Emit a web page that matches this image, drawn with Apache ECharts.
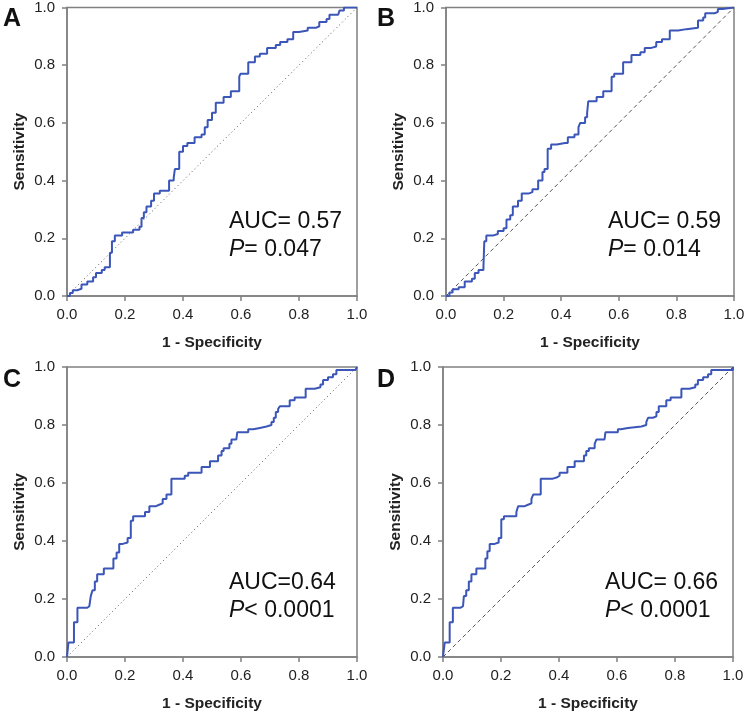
<!DOCTYPE html>
<html>
<head>
<meta charset="utf-8">
<script src="https://cdn.jsdelivr.net/npm/echarts@6/dist/echarts.min.js"></script>
<style>
  html, body { margin: 0; padding: 0; background: #fff; }
  #main { width: 749px; height: 717px; }
</style>
</head>
<body>
<div id="main"></div>
<script>
// ROC 曲线数据（阶梯点：先水平到 x，再竖直到 y）
var fprA = [0,0.01,0.02,0.035,0.05,0.07,0.09,0.10,0.12,0.13,0.148,0.155,0.165,0.19,0.228,0.25,0.257,0.265,0.274,0.29,0.30,0.32,0.352,0.368,0.372,0.387,0.40,0.415,0.44,0.464,0.475,0.485,0.50,0.513,0.54,0.565,0.594,0.598,0.625,0.648,0.665,0.69,0.72,0.735,0.76,0.78,0.80,0.83,0.86,0.87,0.895,0.905,0.935,0.94,0.955,1.0];
var tprA = [0,0.01,0.02,0.025,0.04,0.05,0.065,0.08,0.09,0.10,0.15,0.19,0.21,0.22,0.23,0.24,0.27,0.29,0.31,0.33,0.355,0.365,0.40,0.41,0.44,0.50,0.52,0.53,0.55,0.56,0.585,0.61,0.635,0.67,0.69,0.71,0.76,0.77,0.81,0.83,0.84,0.86,0.87,0.88,0.89,0.915,0.92,0.93,0.935,0.95,0.96,0.975,0.98,0.99,1.0,1.0];

var fprB = [0,0.012,0.023,0.044,0.065,0.09,0.10,0.113,0.13,0.133,0.14,0.165,0.18,0.20,0.21,0.223,0.232,0.25,0.263,0.286,0.30,0.32,0.335,0.342,0.353,0.365,0.385,0.413,0.423,0.446,0.46,0.466,0.483,0.49,0.494,0.523,0.546,0.575,0.584,0.615,0.644,0.675,0.69,0.713,0.73,0.75,0.777,0.806,0.835,0.875,0.893,0.90,0.933,0.944,0.96,1.0];
var tprB = [0,0.012,0.023,0.03,0.05,0.06,0.08,0.09,0.10,0.19,0.21,0.215,0.225,0.235,0.265,0.28,0.31,0.33,0.355,0.36,0.37,0.40,0.43,0.44,0.51,0.525,0.53,0.53,0.55,0.56,0.585,0.60,0.62,0.635,0.675,0.69,0.71,0.76,0.77,0.81,0.835,0.845,0.86,0.865,0.88,0.89,0.92,0.925,0.93,0.955,0.965,0.98,0.985,0.995,1.0,1.0];

var fprC = [0,0.005,0.024,0.036,0.07,0.077,0.082,0.088,0.096,0.104,0.127,0.16,0.171,0.18,0.192,0.209,0.22,0.228,0.269,0.284,0.307,0.318,0.33,0.343,0.36,0.406,0.418,0.464,0.493,0.521,0.533,0.54,0.56,0.567,0.584,0.587,0.625,0.642,0.665,0.688,0.705,0.713,0.72,0.728,0.734,0.768,0.785,0.823,0.854,0.874,0.883,0.90,0.917,0.929,0.995,1.0];
var tprC = [0,0.05,0.12,0.17,0.175,0.18,0.21,0.23,0.26,0.285,0.305,0.34,0.36,0.39,0.395,0.41,0.47,0.485,0.50,0.52,0.525,0.53,0.545,0.56,0.615,0.625,0.635,0.655,0.675,0.695,0.71,0.72,0.735,0.75,0.755,0.775,0.785,0.79,0.795,0.80,0.81,0.825,0.845,0.855,0.865,0.885,0.895,0.925,0.93,0.94,0.955,0.965,0.975,0.99,0.99,1.0];

var fprD = [0,0.006,0.023,0.034,0.061,0.069,0.072,0.08,0.089,0.098,0.115,0.146,0.153,0.161,0.178,0.192,0.201,0.21,0.253,0.259,0.282,0.293,0.305,0.311,0.337,0.379,0.394,0.402,0.429,0.454,0.486,0.494,0.503,0.523,0.529,0.557,0.56,0.603,0.613,0.638,0.684,0.701,0.707,0.724,0.736,0.744,0.77,0.785,0.822,0.85,0.87,0.879,0.897,0.914,0.925,0.992,1.0];
var tprD = [0,0.05,0.12,0.17,0.175,0.18,0.21,0.23,0.26,0.285,0.305,0.34,0.365,0.39,0.395,0.41,0.475,0.485,0.50,0.52,0.525,0.53,0.545,0.56,0.615,0.62,0.625,0.635,0.655,0.675,0.695,0.71,0.72,0.735,0.75,0.755,0.775,0.785,0.79,0.795,0.80,0.81,0.825,0.83,0.845,0.865,0.885,0.895,0.925,0.93,0.94,0.955,0.965,0.975,0.99,0.99,1.0];

var panelLetters = ['A', 'B', 'C', 'D'];
var aucText = ['AUC= 0.57', 'AUC= 0.59', 'AUC=0.64', 'AUC= 0.66'];
var pText = ['= 0.047', '= 0.014', '< 0.0001', '< 0.0001'];
var diagType = ['dotted', 'dashed', 'dotted', 'dashed'];
var tickLabels = ['0.0', '0.2', '0.4', '0.6', '0.8', '1.0'];

var fprs = [fprA, fprB, fprC, fprD];
var tprs = [tprA, tprB, tprC, tprD];

// 各面板位置
var grids = [
  {left: 67, top: 6, width: 290, height: 290},
  {left: 446, top: 6, width: 288, height: 290},
  {left: 67, top: 367, width: 290, height: 290},
  {left: 443, top: 367, width: 290, height: 290}
];

function zip(xs, ys) {
  var out = [];
  for (var i = 0; i < xs.length; i++) out.push([xs[i], ys[i]]);
  return out;
}

var font = '"Liberation Sans", Arial, sans-serif';

var xAxes = [], yAxes = [], series = [], graphics = [];
grids.forEach(function (g, i) {
  g.show = true;
  g.borderColor = '#808080';
  g.borderWidth = 1.5;
  var axisCommon = {
    type: 'value',
    min: 0, max: 1, interval: 0.2,
    gridIndex: i,
    axisLine: {show: true, lineStyle: {color: '#808080', width: 1.5}},
    axisTick: {show: true, length: 5, lineStyle: {color: '#808080', width: 1.5}},
    splitLine: {show: false},
    axisLabel: {
      color: '#222', fontSize: 15, fontFamily: font,
      formatter: function (v) { return tickLabels[Math.round(v * 5)]; }
    },
    nameLocation: 'middle',
    nameTextStyle: {color: '#222', fontSize: 15.5, fontWeight: 'bold', fontFamily: font}
  };
  var xa = Object.assign({}, axisCommon, {name: '1 - Specificity', nameGap: 39});
  xa.axisLabel = Object.assign({}, axisCommon.axisLabel, {margin: 11});
  var ya = Object.assign({}, axisCommon, {name: 'Sensitivity', nameGap: 39});
  ya.axisLabel = Object.assign({}, axisCommon.axisLabel, {margin: 12});
  xAxes.push(xa);
  yAxes.push(ya);

  // 参考对角线
  series.push({
    type: 'line', xAxisIndex: i, yAxisIndex: i,
    data: [[0, 0], [1, 1]], symbol: 'none', silent: true,
    lineStyle: {color: '#555', width: 1, type: diagType[i] === 'dotted' ? [1, 3] : [4, 3]}
  });
  // ROC 曲线
  series.push({
    type: 'line', xAxisIndex: i, yAxisIndex: i,
    data: zip(fprs[i], tprs[i]), step: 'end', symbol: 'none',
    lineStyle: {color: '#3b56b8', width: 2}
  });

  graphics.push({
    type: 'text', left: i % 2 === 0 ? 3 : 377, top: g.top + 1,
    style: {text: panelLetters[i], fontSize: 25, fontWeight: 'bold', fontFamily: font, fill: '#111'}
  });
  graphics.push({
    type: 'text', left: g.left + 162, top: g.top + 202,
    style: {
      text: aucText[i] + '\n{it|P}' + pText[i],
      fontSize: 23, fontFamily: font, fill: '#111', lineHeight: 28,
      rich: {it: {fontSize: 23, fontFamily: font, fontStyle: 'italic', fill: '#111'}}
    }
  });
});

var chart = echarts.init(document.getElementById('main'));
chart.setOption({
  animation: false,
  grid: grids,
  xAxis: xAxes,
  yAxis: yAxes,
  series: series,
  graphic: graphics
});
</script>
</body>
</html>
